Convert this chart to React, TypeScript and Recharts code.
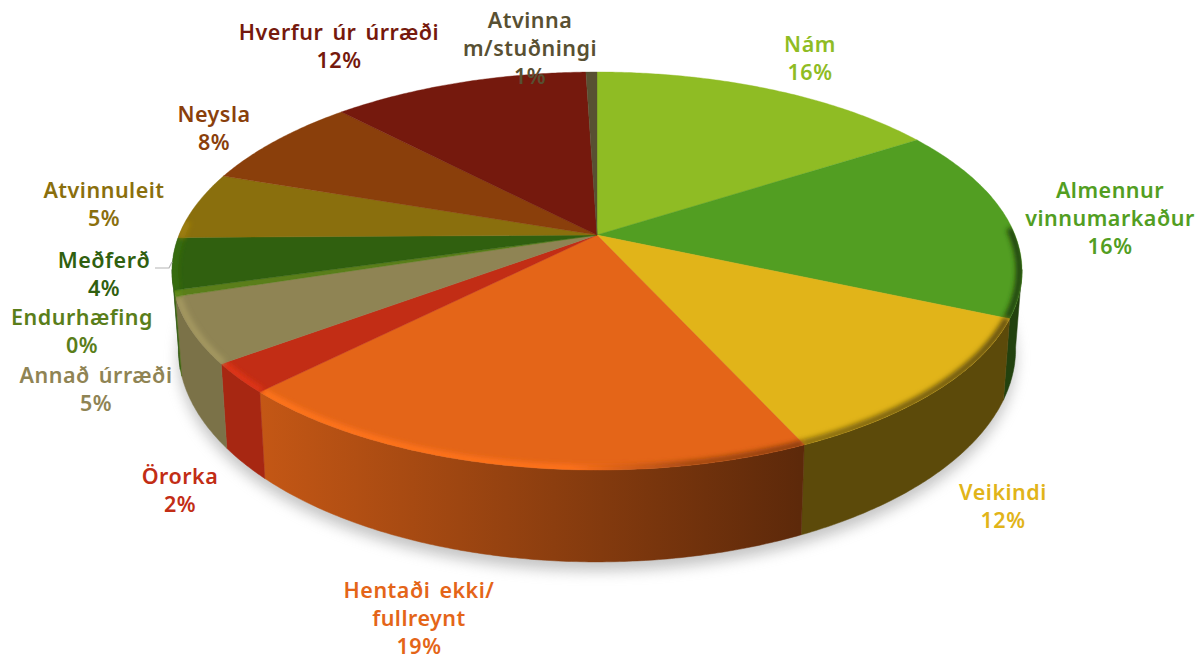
import { PieChart, Pie } from "recharts";

const CATEGORIES = [
  "Nám", "Almennur vinnumarkaður", "Veikindi", "Hentaði ekki/ fullreynt", "Örorka", "Annað úrræði",
  "Endurhæfing", "Meðferð", "Atvinnuleit", "Neysla", "Hverfur úr úrræði", "Atvinna m/stuðningi",
];
const VALUES = [15.9, 15.7, 11.6, 19.2, 2.4, 5.3, 0.49, 4.2, 5.45, 7.6, 11.65, 0.5];
const COLORS = [
  "#8fbc24", "#529e22", "#e1b419", "#e46518", "#c22d15", "#8f8454",
  "#5a7e1a", "#30600f", "#8a6f0d", "#8a3f0b", "#75190d", "#585032",
];
const LABEL_LINES = [
  ["Nám"], ["Almennur", "vinnumarkaður"], ["Veikindi"], ["Hentaði ekki/", "fullreynt"], ["Örorka"], ["Annað úrræði"],
  ["Endurhæfing"], ["Meðferð"], ["Atvinnuleit"], ["Neysla"], ["Hverfur úr úrræði"], ["Atvinna", "m/stuðningi"],
];
// label anchors: centre x, first baseline y
const LABEL_POS = [
  [810, 52], [1110, 198], [1003, 500], [419, 598], [180, 484], [96, 383],
  [82, 325], [104, 268], [104, 198], [214, 122], [339, 40], [530, 28],
];

const data = CATEGORIES.map((name, i) => ({ name, value: VALUES[i] }));
const total = VALUES.reduce((a, b) => a + b, 0);

// perspective of the tilted disc
const K = 0.181;
const SQUASH = 0.4605;
const DEPTH = 0.18;
const BOTTOM_X = 0.985;

const shade = (hex: string, f: number) => {
  const n = parseInt(hex.slice(1), 16);
  const c = [n >> 16, (n >> 8) & 255, n & 255].map((v) => Math.min(255, Math.round(v * f)));
  return `rgb(${c.join(",")})`;
};

const rimPoint = (p: any, deg: number, lower = false) => {
  const a = (deg * Math.PI) / 180;
  const x = Math.cos(a);
  const y = -Math.sin(a);
  const w = 1 - K * y;
  const r = p.outerRadius;
  const px = (r * x) / w;
  const py = (r * SQUASH * y) / w;
  if (!lower) return [p.cx + px, p.cy + py];
  return [p.cx + px * BOTTOM_X, p.cy + py + (r * DEPTH) / w];
};

const arcPoints = (p: any, from: number, to: number, lower = false) => {
  const n = Math.max(2, Math.ceil(Math.abs(to - from) * 2));
  const pts: number[][] = [];
  for (let i = 0; i <= n; i++) pts.push(rimPoint(p, from + ((to - from) * i) / n, lower));
  return pts;
};

const toPath = (pts: number[][]) => pts.map((q, i) => `${i ? "L" : "M"}${q[0].toFixed(1)},${q[1].toFixed(1)}`).join(" ");

function Slice(props: any) {
  const i = props.index;
  const color = COLORS[i];
  const { cx, cy, startAngle, endAngle } = props;
  const top = `${toPath([[cx, cy], ...arcPoints(props, startAngle, endAngle)])} Z`;

  // only the front of the rim shows a wall
  const wallStart = Math.min(startAngle, -10);
  const wallEnd = Math.max(endAngle, -170);
  const hasWall = wallStart > wallEnd;
  const bevelStart = Math.min(startAngle, 2);
  const bevelEnd = Math.max(endAngle, -184);
  const hasBevel = bevelStart > bevelEnd;

  return (
    <g>
      {i === 0 && (
        <>
          <defs>
            <filter id="soft" x="-10%" y="-10%" width="120%" height="120%">
              <feGaussianBlur stdDeviation="7" />
            </filter>
            <filter id="edge" filterUnits="userSpaceOnUse" x="0" y="0" width="1197" height="658">
              <feGaussianBlur stdDeviation="2.4" />
            </filter>
            <clipPath id="disc">
              <path d={`${toPath(arcPoints(props, 0, 360))} Z`} />
            </clipPath>
          </defs>
          <path
            d={`${toPath(arcPoints(props, 0, 360, true))} Z`}
            fill="#8c8c8c"
            opacity={0.5}
            filter="url(#soft)"
            transform="translate(0 9)"
          />
        </>
      )}
      <defs>
        <linearGradient id={`wall${i}`} gradientUnits="userSpaceOnUse" x1={260} x2={800} y1={0} y2={0}>
          <stop offset="0" stopColor={shade(color, 0.86)} />
          <stop offset="1" stopColor={shade(color, 0.41)} />
        </linearGradient>
        <linearGradient id={`bevel${i}`} gradientUnits="userSpaceOnUse" x1={200} x2={1020} y1={0} y2={0}>
          <stop offset="0" stopColor={shade(color, 1.15)} />
          <stop offset="0.45" stopColor={shade(color, 1.13)} />
          <stop offset="0.6" stopColor={shade(color, 0.7)} />
          <stop offset="1" stopColor={shade(color, 0.42)} />
        </linearGradient>
      </defs>
      {hasWall && (
        <path
          d={`${toPath([...arcPoints(props, wallStart, wallEnd), ...arcPoints(props, wallStart, wallEnd, true).reverse()])} Z`}
          fill={`url(#wall${i})`}
          stroke={`url(#wall${i})`}
          strokeWidth={0.5}
        />
      )}
      <path d={top} fill={color} stroke={color} strokeWidth={0.4} />
      {hasBevel && (
        <g clipPath="url(#disc)">
          <path
            d={toPath(arcPoints({ ...props, outerRadius: props.outerRadius * 0.994 }, bevelStart, bevelEnd))}
            fill="none"
            stroke={`url(#bevel${i})`}
            strokeWidth={7}
            filter="url(#edge)"
          />
        </g>
      )}
    </g>
  );
}

function SliceLabel(props: any) {
  const i = props.index;
  const [x, y] = LABEL_POS[i];
  const lines = [...LABEL_LINES[i], `${Math.round((VALUES[i] / total) * 100)}%`];
  return (
    <g>
      {i === 7 && <path d="M155,268 L169,268 L172,262" fill="none" stroke="#b4b4b4" strokeWidth={1.2} />}
      <text
        x={x}
        y={y}
        textAnchor="middle"
        fill={COLORS[i]}
        fontFamily="'Noto Sans'"
        fontWeight={600}
        fontSize={21.5}
        letterSpacing={0.5}
        wordSpacing={3}
      >
        {lines.map((t, j) => (
          <tspan key={j} x={x} dy={j ? 28 : 0}>{t}</tspan>
        ))}
      </text>
    </g>
  );
}

export default function App() {
  return (
    <div style={{ position: "absolute", left: 0, top: 0, background: "#fff" }}>
      <PieChart width={1197} height={658} margin={{ top: 0, right: 0, bottom: 0, left: 0 }} accessibilityLayer={false}>
        <Pie
          data={data}
          dataKey="value"
          nameKey="name"
          cx={597}
          cy={235}
          innerRadius={0}
          outerRadius={418}
          startAngle={90}
          endAngle={-270}
          paddingAngle={0}
          stroke="none"
          shape={Slice}
          label={SliceLabel}
          labelLine={false}
          isAnimationActive={false}
        />
      </PieChart>
    </div>
  );
}
